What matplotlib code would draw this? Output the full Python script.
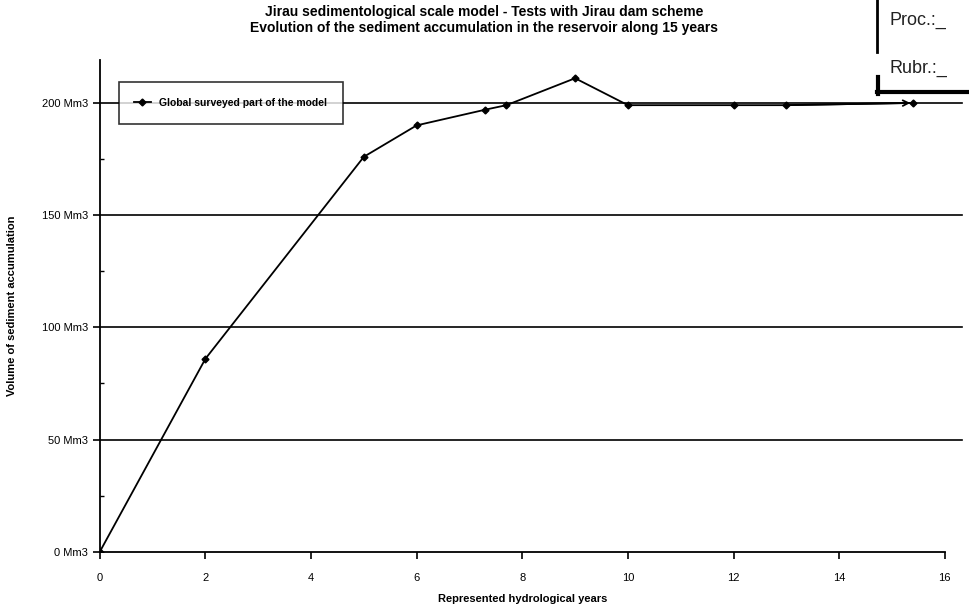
import matplotlib
matplotlib.use("Agg")
import matplotlib.pyplot as plt
from matplotlib.ticker import MultipleLocator, FuncFormatter
from matplotlib.lines import Line2D

plt.rcParams['font.family'] = ['Liberation Sans', 'DejaVu Sans']

# data
years = [0, 2, 5, 6, 7.3, 7.7, 9, 10, 12, 13, 15.4]
volume = [0, 86, 176, 190, 197, 199, 211, 199, 199, 199, 200]

title_lines = ["Jirau sedimentological scale model - Tests with Jirau dam scheme",
               "Evolution of the sediment accumulation in the reservoir along 15 years"]
legend_label = "Global surveyed part of the model"
x_ticks = [0, 2, 4, 6, 8, 10, 12, 14, 16]
y_ticks = [0, 50, 100, 150, 200]

fig = plt.figure(figsize=(9.69, 6.09), dpi=100)
ax = fig.add_axes([0.103, 0.094, 0.872, 0.807])

# horizontal grid lines running past the axis end, as in the scan
for v in y_ticks[1:]:
    ax.axhline(v, xmin=0, xmax=1.02, color='black', lw=1.2, zorder=1, clip_on=False)

ax.plot(years, volume, color='black', lw=1.3, marker='D', markersize=3.5, zorder=3)
ax.annotate('', xy=(years[-1], volume[-1]), xytext=(years[-2], volume[-2]),
            arrowprops=dict(arrowstyle='->', color='black', lw=1.3))

ax.set_xlim(0, 16)
ax.set_ylim(0, 219)
ax.set_xticks(x_ticks)
ax.set_yticks(y_ticks)
ax.yaxis.set_minor_locator(MultipleLocator(25))
ax.yaxis.set_major_formatter(FuncFormatter(lambda v, p: f"{int(v)} Mm3"))
ax.tick_params(axis='both', which='major', labelsize=8, length=5, width=1.2, direction='out')
ax.tick_params(axis='x', which='major', pad=10)
ax.tick_params(axis='y', which='minor', length=3, width=1, direction='in')

for s in ['top', 'right']:
    ax.spines[s].set_visible(False)
for s in ['left', 'bottom']:
    ax.spines[s].set_linewidth(1.3)

ax.set_xlabel("Represented hydrological years", fontsize=8, fontweight='bold', labelpad=8)
ax.set_ylabel("Volume of sediment accumulation", fontsize=8, fontweight='bold', labelpad=18)

fig.text(0.5, 0.980, title_lines[0], ha='center', va='center', fontsize=10, fontweight='bold')
fig.text(0.5, 0.954, title_lines[1], ha='center', va='center', fontsize=10, fontweight='bold')

handle = Line2D([], [], color='black', lw=1.3, marker='D', markersize=3.5)
leg = ax.legend([handle], [legend_label], loc='center left', bbox_to_anchor=(0.016, 200 / 219),
                prop={'size': 7.5, 'weight': 'bold'}, frameon=True, fancybox=False,
                edgecolor='black', handlelength=1.6, borderpad=1.5)
leg.get_frame().set_linewidth(1.2)

# stamp box in the top right corner
fig.text(0.918, 0.967, "Proc.:_", fontsize=13, ha='left', va='center', color='#222222')
fig.text(0.918, 0.888, "Rubr.:_", fontsize=13, ha='left', va='center', color='#222222')
fig.add_artist(Line2D([0.905, 0.905], [0.915, 1.0], color='black', lw=2))
fig.add_artist(Line2D([0.906, 0.906], [0.845, 0.874], color='black', lw=3))
fig.add_artist(Line2D([0.905, 1.0], [0.849, 0.849], color='black', lw=3))

fig.savefig("out.png", dpi=100)
